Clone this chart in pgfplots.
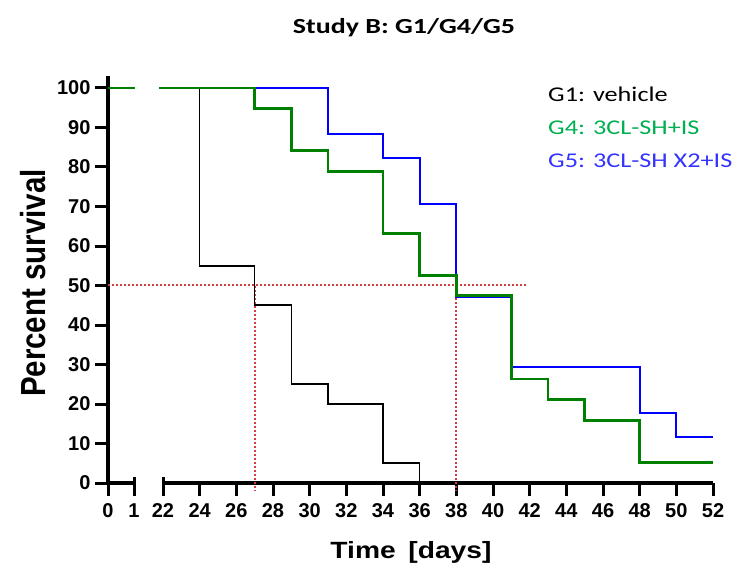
\documentclass[border=0pt]{standalone}
\usepackage{fontspec}
\setmainfont{Liberation Sans}
\newfontfamily\calibri{Carlito}
\usepackage{pgfplots}
\pgfplotsset{compat=1.18}
\definecolor{kmgreen}{RGB}{0,128,0}
\definecolor{kmblue}{RGB}{0,0,255}
\definecolor{leggreen}{RGB}{0,176,80}
\definecolor{legblue}{RGB}{51,51,255}
\definecolor{refred}{RGB}{210,60,60}
\pgfplotsset{
  kmbase/.style={
    scale only axis, height=406.85pt, ymin=0, ymax=103,
    axis line style={line width=3.2pt, black},
    tick align=outside, major tick length=13pt,
    xtick style={line width=3pt, black},
    ytick style={line width=3pt, black},
    /pgf/number format/assume math mode=true,
    tick label style={font=\fontsize{20}{20}\selectfont\bfseries},
    xticklabel style={yshift=-4pt},
    yticklabel style={xshift=-1pt},
  }
}
\begin{document}
\begin{tikzpicture}[x=1pt,y=1pt]
\useasboundingbox (0,0) rectangle (745,566);
% left segment 0-1
\begin{axis}[kmbase, at={(108pt,83pt)}, anchor=south west, width=26pt,
  xmin=0, xmax=1, axis x line*=bottom, axis y line*=left,
  xtick={0,1}, ytick={0,10,...,100},
  extra x ticks={1}, extra x tick labels={},
  extra x tick style={tick align=center, major tick length=13pt, xtick style={line width=3pt}},
  clip=false]
\addplot[black, line width=1.6pt] coordinates {(0,100)(1.04,100)};
\addplot[kmblue, line width=2pt] coordinates {(0,100)(1.04,100)};
\addplot[kmgreen, line width=2.8pt] coordinates {(0,100)(1.04,100)};
\end{axis}
% right segment 22-52
\begin{axis}[kmbase, at={(163pt,83pt)}, anchor=south west, width=550pt,
  xmin=22, xmax=52, axis x line*=bottom, axis y line=none,
  xtick={22,24,...,52}, ytick=\empty,
  extra x ticks={22}, extra x tick labels={},
  extra x tick style={tick align=center, major tick length=13pt, xtick style={line width=3pt}},
  clip=false]
% reference lines at 50 % survival
\addplot[refred, dash pattern=on 2pt off 2pt, line width=2pt] coordinates {(19,50.1)(41.9,50.1)};
\addplot[refred, dash pattern=on 2pt off 2pt, line width=2pt] coordinates {(27,50)(27,-1.8)};
\addplot[refred, dash pattern=on 2pt off 2pt, line width=2pt] coordinates {(38,50)(38,-1.8)};
% G1: vehicle
\addplot[black, line width=1.6pt, const plot] coordinates {
 (21.8,100)(24,55)(27,45)(29,25)(31,20)(34,5)(36,0)};
% G5
\addplot[kmblue, line width=2pt, const plot] coordinates {
 (21.8,100)(31,88.24)(34,82.35)(36,70.59)(38,47.06)(41,29.41)(48,17.65)(50,11.76)(52,11.76)};
% G4
\addplot[kmgreen, line width=2.8pt, const plot] coordinates {
 (21.8,100)(27,94.74)(29,84.21)(31,78.95)(34,63.16)(36,52.63)(38,47.37)(41,26.32)(43,21.05)(45,15.79)(48,5.26)(52,5.26)};
\end{axis}
% title, labels, legend
\node[anchor=base, inner sep=0pt, font=\calibri\bfseries\fontsize{21.5}{21.5}\selectfont] at (404,532.5) {\scalebox{1.3}[1]{Study B: G1/G4/G5}};
\node[anchor=base, inner sep=0pt, font=\bfseries\fontsize{23.5}{23.5}\selectfont] at (411,8) {\scalebox{1.2}[1]{Time\hspace{0.45em}[days]}};
\node[anchor=base, inner sep=0pt, rotate=90, font=\bfseries\fontsize{29.5}{29.5}\selectfont] at (45,283) {\scalebox{1}[1.18]{Percent survival}};
\node[anchor=base west, inner sep=0pt, font=\calibri\fontsize{21}{21}\selectfont, text=black] at (548,464) {\scalebox{1.25}[1]{G1: vehicle}};
\node[anchor=base west, inner sep=0pt, font=\calibri\fontsize{21}{21}\selectfont, text=leggreen] at (548,431) {\scalebox{1.25}[1]{G4: 3CL-SH+IS}};
\node[anchor=base west, inner sep=0pt, font=\calibri\fontsize{21}{21}\selectfont, text=legblue] at (548,398) {\scalebox{1.25}[1]{G5: 3CL-SH X2+IS}};
\end{tikzpicture}
\end{document}
